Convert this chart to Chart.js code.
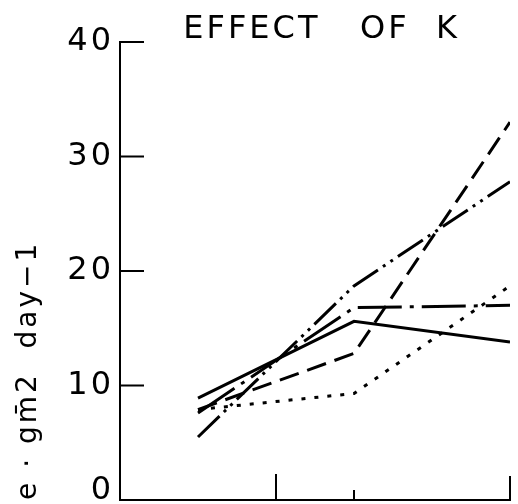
<!DOCTYPE html>
<html>
<head>
<meta charset="utf-8">
<script src="https://cdn.jsdelivr.net/npm/chart.js@4"></script>
<style>
  html, body { margin: 0; padding: 0; background: #fff; }
  #wrap { width: 518px; height: 504px; }
</style>
</head>
<body>
<div id="wrap"><canvas id="myChart"></canvas></div>
<script>
// sampling positions along the (unlabelled) x axis
const xPositions = [0, 2, 4];

// rate, g m-2 day-1, one array per curve
const solidLine = [8.9, 15.6, 13.8];
const dashedLine = [7.9, 12.8, 33.0];
const dashDotDotLine = [5.5, 18.7, 27.8];
const dottedLine = [7.9, 9.3, 18.7];
const dashDotLine = [7.6, 16.8, 17.0];

const yTicks = [0, 10, 20, 30, 40];
const xTicks = [1, 2, 4];

function toPoints(values) {
  return values.map((v, i) => ({ x: xPositions[i], y: v }));
}

function line(label, values, dash) {
  return {
    label: label,
    data: toPoints(values),
    borderColor: '#000',
    borderWidth: 3,
    borderDash: dash,
    pointRadius: 0,
    fill: false,
    tension: 0
  };
}

// spaced lettering for the texts, tick marks drawn inside the axes
const tickMarks = {
  id: 'tickMarks',
  beforeDraw(chart) {
    chart.ctx.letterSpacing = '3px';
  },
  beforeDatasetsDraw(chart) {
    chart.ctx.letterSpacing = '0px';
  },
  afterDatasetsDraw(chart, args, opts) {
    const { ctx, chartArea, scales: { x, y } } = chart;
    ctx.save();
    ctx.strokeStyle = '#000';
    ctx.lineWidth = 2;
    ctx.beginPath();
    yTicks.forEach(v => {
      const py = y.getPixelForValue(v);
      ctx.moveTo(chartArea.left, py);
      ctx.lineTo(chartArea.left + opts.yLength, py);
    });
    xTicks.forEach((v, i) => {
      const px = x.getPixelForValue(v);
      ctx.moveTo(px, chartArea.bottom);
      ctx.lineTo(px, chartArea.bottom - opts.xLengths[i]);
    });
    ctx.stroke();
    ctx.restore();
  }
};

const config = {
  type: 'line',
  data: {
    datasets: [
      line('solid', solidLine, []),
      line('dashed', dashedLine, [20, 9]),
      line('dash-dot-dot', dashDotDotLine, [30, 6, 3, 6, 3, 6]),
      line('dotted', dottedLine, [4, 9]),
      line('dash-dot', dashDotLine, [44, 8, 4, 8])
    ]
  },
  options: {
    responsive: true,
    maintainAspectRatio: false,
    animation: false,
    devicePixelRatio: 1,
    layout: { padding: { left: 0, right: 8, top: 0, bottom: 0 } },
    plugins: {
      legend: { display: false },
      tooltip: { enabled: false },
      title: {
        display: true,
        text: ' EFFECT   OF  K',
        fullSize: false,
        color: '#000',
        font: { size: 32, family: 'DejaVu Sans', weight: 'normal', lineHeight: 1.0 },
        padding: { top: 14, bottom: -4 }
      },
      tickMarks: { yLength: 24, xLengths: [26, 10, 24] }
    },
    scales: {
      x: {
        type: 'linear',
        min: -1,
        max: 4,
        ticks: { display: false },
        grid: { display: false, drawTicks: false },
        border: { display: true, color: '#000', width: 2 },
        afterFit(s) { s.height = 4; }
      },
      y: {
        min: 0,
        max: 40,
        ticks: {
          stepSize: 10,
          color: '#000',
          padding: 6,
          font: { size: 32, family: 'DejaVu Sans', lineHeight: 0.6 },
          callback: (v) => v === 0 ? ['0', ''] : String(v)
        },
        grid: { display: false, drawTicks: false },
        border: { display: true, color: '#000', width: 2 },
        title: {
          display: true,
          text: 'e · gm\u03042  day\u22121',
          align: 'start',
          color: '#000',
          font: { size: 28, family: 'DejaVu Sans' },
          padding: { top: 12, bottom: 0 }
        },
        afterFit(s) {
          s.width = 120;
          s.paddingTop = 0;
          s.paddingBottom = 0;
        }
      }
    }
  },
  plugins: [tickMarks]
};

const myChart = new Chart(document.getElementById('myChart'), config);
</script>
</body>
</html>
